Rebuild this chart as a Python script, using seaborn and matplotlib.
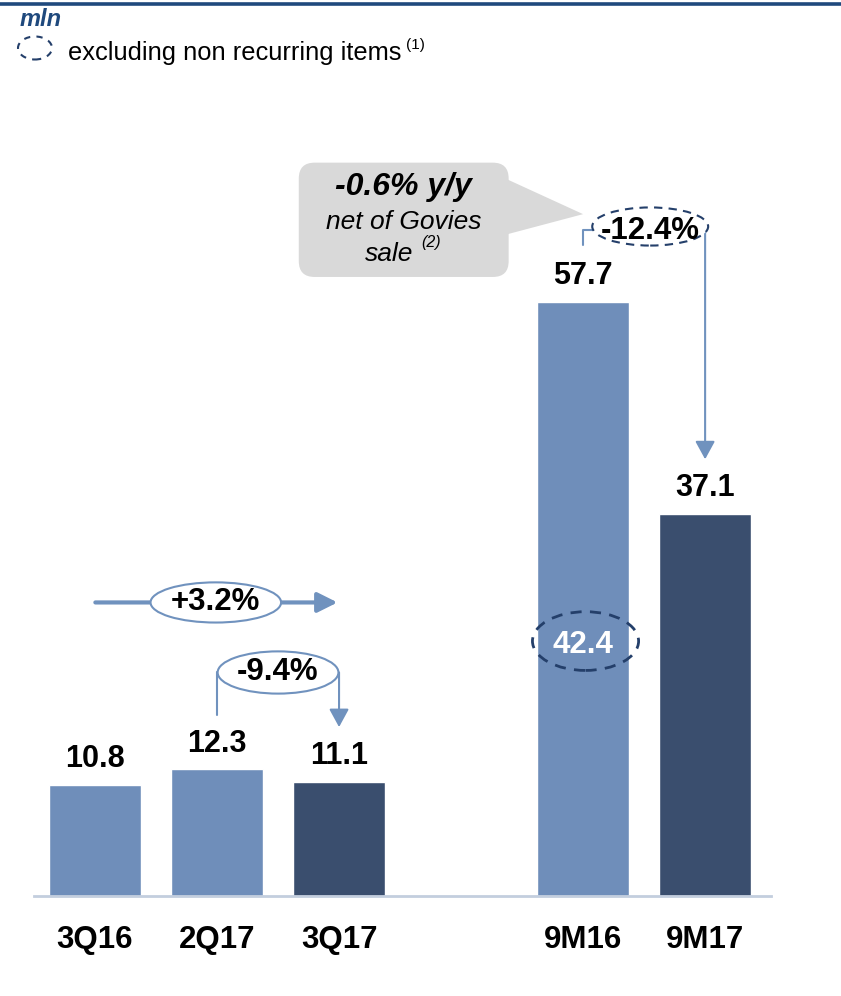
import numpy as np
import pandas as pd
import matplotlib
matplotlib.use("Agg")
import matplotlib.pyplot as plt
import seaborn as sns
from matplotlib.patches import Ellipse, FancyBboxPatch, Polygon, FancyArrowPatch
from matplotlib.lines import Line2D

# datos
periods = ["3Q16", "2Q17", "3Q17", "9M16", "9M17"]
values = [10.8, 12.3, 11.1, 57.7, 37.1]
groups = ["prev", "prev", "curr", "prev", "curr"]
order = ["3Q16", "2Q17", "3Q17", "", "9M16", "9M17"]
adj_9m16 = 42.4
chg_q_yoy = "+3.2%"
chg_q_qoq = "-9.4%"
chg_9m = "-12.4%"

df = pd.DataFrame({"period": periods, "value": values, "group": groups})

LIGHT = "#6F8EBA"
DARK = "#3A4E6E"
NAVY = "#1F497D"
DASH = "#243F6A"
LINE = "#7092BE"

sns.set_theme(style="white")
plt.rcParams["font.family"] = ["Liberation Sans", "DejaVu Sans"]
plt.rcParams["text.color"] = "black"

W, H = 841, 996
fig = plt.figure(figsize=(W / 100, H / 100), dpi=100)
ax = fig.add_axes([34 / W, 100 / H, 737 / W, 824 / H])

sns.barplot(data=df, x="period", y="value", hue="group", order=order,
            palette={"prev": LIGHT, "curr": DARK}, dodge=False, width=0.75,
            saturation=1, legend=False, ax=ax)

ax.set_xlim(-0.5, 5.54)
ax.set_ylim(0, 80)
ax.set_xlabel("")
ax.set_ylabel("")
ax.set_yticks([])
for s in ["top", "left", "right"]:
    ax.spines[s].set_visible(False)
ax.spines["bottom"].set_color("#C3CEDE")
ax.spines["bottom"].set_linewidth(2)
ax.tick_params(axis="x", length=0, pad=21)
for lab in ax.get_xticklabels():
    lab.set_fontsize(22.5)
    lab.set_fontweight("bold")
    lab.set_color("black")

# etiquetas de valor
xpos = {p: order.index(p) for p in periods}
for p, v in zip(periods, values):
    ax.annotate(f"{v:.1f}", (xpos[p], v), xytext=(0, 18.5), textcoords="offset points",
                ha="center", va="center", fontsize=22, fontweight="bold", color="black")

# +3.2% (3Q17 vs 3Q16)
x0, x2 = xpos["3Q16"], xpos["3Q17"]
ax.add_patch(FancyArrowPatch((x0 - 0.02, 28.5), (x2 + 0.01, 28.5),
                             arrowstyle="-|>,head_length=0.6,head_width=0.3",
                             mutation_scale=20, color=LINE, lw=3, zorder=4))
ax.add_patch(Ellipse(((x0 + x2) / 2 - 0.01, 28.5), 1.07, 3.9, facecolor="white",
                     edgecolor=LINE, lw=1.5, zorder=5))
ax.text((x0 + x2) / 2 - 0.01, 28.5, chg_q_yoy, ha="center", va="center",
        fontsize=22.5, fontweight="bold", zorder=6)

# -9.4% (3Q17 vs 2Q17)
x1 = xpos["2Q17"]
yb = 21.7
ax.add_line(Line2D([x1, x1], [17.6, yb], color=LINE, lw=1.5))
ax.add_patch(FancyArrowPatch((x2, yb), (x2, 16.4),
                             arrowstyle="-|>,head_length=0.55,head_width=0.3",
                             mutation_scale=20, color=LINE, lw=1.5, shrinkA=0, shrinkB=0))
ax.add_patch(Ellipse(((x1 + x2) / 2, yb), 0.99, 4.1, facecolor="white",
                     edgecolor=LINE, lw=1.5, zorder=5))
ax.text((x1 + x2) / 2, yb, chg_q_qoq, ha="center", va="center",
        fontsize=22.5, fontweight="bold", zorder=6)

# -12.4% (9M17 vs 9M16)
x3, x4 = xpos["9M16"], xpos["9M17"]
yc = 65.0
ax.add_line(Line2D([x3, x3, x3 + 0.08], [63.2, 64.7, 64.7], color=LINE, lw=1.5))
ax.add_patch(FancyArrowPatch((x4, 64.9), (x4, 42.4),
                             arrowstyle="-|>,head_length=0.55,head_width=0.3",
                             mutation_scale=20, color=LINE, lw=1.5, shrinkA=0, shrinkB=0))
ax.add_patch(Ellipse((4.55, yc), 0.95, 3.7, facecolor="white", edgecolor=DASH,
                     lw=1.5, ls=(0, (4, 3)), zorder=5))
ax.text(4.55, yc - 0.4, chg_9m, ha="center", va="center",
        fontsize=22.5, fontweight="bold", zorder=6)

# 42.4 excluyendo no recurrentes
ax.add_patch(Ellipse((x3 + 0.02, 24.75), 0.87, 5.7, facecolor="none", edgecolor=DASH,
                     lw=2, ls=(0, (4, 3)), zorder=5))
ax.text(x3, 24.4, f"{adj_9m16:.1f}", ha="center", va="center", color="white",
        fontsize=22.5, fontweight="bold", zorder=6)

# globo gris
asp = (1 / 10.3) / (1 / 122)
ax.add_patch(Polygon([(3.30, 70.0), (4.0, 66.2), (3.30, 64.0)], closed=True,
                     facecolor="#D9D9D9", edgecolor="none", zorder=3))
ax.add_patch(FancyBboxPatch((1.67, 60.1), 3.39 - 1.67, 71.2 - 60.1,
                            boxstyle="round,pad=0,rounding_size=0.13",
                            mutation_aspect=asp, facecolor="#D9D9D9",
                            edgecolor="none", zorder=3))
ax.text(2.53, 68.8, "-0.6% y/y", ha="center", va="center", fontsize=23,
        fontweight="bold", fontstyle="italic", zorder=4)
ax.text(2.53, 65.4, "net of Govies", ha="center", va="center", fontsize=19,
        fontstyle="italic", zorder=4)
ax.text(2.41, 62.3, "sale", ha="center", va="center", fontsize=19,
        fontstyle="italic", zorder=4)
ax.text(2.67, 63.4, "(2)", ha="left", va="center", fontsize=11.5,
        fontstyle="italic", zorder=4)

# cabecera
def fx(px):
    return px / W

def fy(py):
    return 1 - py / H

fig.add_artist(Line2D([0, 1], [fy(4.5), fy(4.5)], color=NAVY, lw=2.6))
fig.text(fx(20), fy(20), "mln", ha="left", va="center", fontsize=17,
         fontweight="bold", fontstyle="italic", color=NAVY)
fig.add_artist(Ellipse((fx(35), fy(48)), 34 / W, 23 / H, facecolor="none",
                       edgecolor=DASH, lw=1.5, ls=(0, (3, 3)),
                       transform=fig.transFigure))
fig.text(fx(68), fy(53), "excluding non recurring items", ha="left", va="center",
         fontsize=18.4, color="black")
fig.text(fx(406), fy(45), "(1)", ha="left", va="center", fontsize=11, color="black")

fig.savefig("out.png", dpi=100)
